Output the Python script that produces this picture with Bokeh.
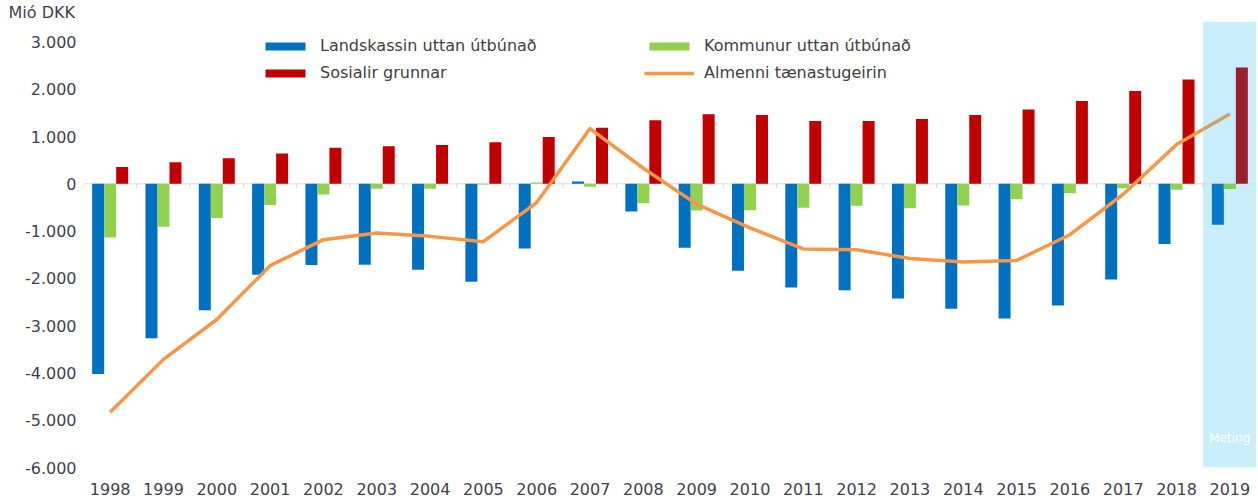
from bokeh.plotting import figure
from bokeh.models import (ColumnDataSource, Range1d, FixedTicker, BoxAnnotation,
                          Label, Legend, LegendItem, Span)
from bokeh.transform import dodge
from bokeh.embed import file_html
from bokeh.resources import INLINE

# ---------------- data ----------------
years = [str(y) for y in range(1998, 2020)]
landskassin = [-4020, -3265, -2675, -1925, -1715, -1710, -1815, -2070, -1370, 50,
               -585, -1350, -1840, -2195, -2250, -2425, -2640, -2850, -2575, -2025,
               -1270, -865]
kommunur = [-1135, -905, -725, -445, -225, -105, -105, -15, 30, -60,
            -410, -565, -560, -505, -465, -515, -460, -325, -200, -95,
            -125, -110]
sosialir = [358, 457, 541, 640, 766, 795, 823, 879, 992, 1188,
            1343, 1470, 1456, 1329, 1329, 1370, 1456, 1575, 1751, 1962,
            2209, 2462]
almenni = [-4830, -3713, -2869, -1730, -1181, -1041, -1111, -1224, -394, 1170,
           330, -430, -930, -1378, -1392, -1580, -1652, -1620, -1076, -220,
           830, 1477]
series_names = ["Landskassin uttan útbúnað", "Kommunur uttan útbúnað",
                "Sosialir grunnar", "Almenni tænastugeirin"]
forecast_year = "2019"
forecast_label = "Meting"
y_unit = "Mió DKK"
y_ticks = list(range(-6000, 3001, 1000))

# ---------------- styles ----------------
BLUE, GREEN, RED, ORANGE = "#0070C0", "#92D050", "#C00000", "#F79646"
BLUE_F, GREEN_F, RED_F, ORANGE_F = "#0A78C8", "#7FCB5C", "#9A1F2E", "#C9A271"
SHADE = "#C9EDFA"
TXT = "#3F3F4F"
FONT = "DejaVu Sans"
W = 0.225

idx = list(range(len(years)))
fi = years.index(forecast_year)


def colors(base, fc):
    return [fc if y == forecast_year else base for y in years]


src = ColumnDataSource(dict(
    x=idx, land=landskassin, komm=kommunur, sos=sosialir,
    c_land=colors(BLUE, BLUE_F), c_komm=colors(GREEN, GREEN_F), c_sos=colors(RED, RED_F),
))

p = figure(width=1256, height=497,
           x_range=Range1d(-0.5, len(years) - 0.5),
           y_range=Range1d(-6000, 3434),
           output_backend="svg", toolbar_location=None,
           min_border_left=83, min_border_right=0, min_border_top=0, min_border_bottom=0)
p.outline_line_color = None
p.grid.visible = False
p.background_fill_color = "white"
p.border_fill_color = "white"

# unit label as title
p.title.text = y_unit
p.title.align = "left"
p.title.offset = -75
p.title.standoff = 0
p.title.text_font = FONT
p.title.text_font_size = "16px"
p.title.text_font_style = "normal"
p.title.text_color = TXT

# forecast shading
p.add_layout(BoxAnnotation(left=fi - 0.5, right=fi + 0.5, fill_color=SHADE,
                           fill_alpha=1.0, line_color=None, level="underlay"))

# zero line + category boundary ticks
p.add_layout(Span(location=0, dimension="width", line_color="#D9D9D9", line_width=1,
                  level="underlay"))
bounds = [i - 0.5 for i in range(len(years) + 1)]
p.segment(x0=bounds, x1=bounds, y0=[0] * len(bounds), y1=[-90] * len(bounds),
          line_color="#D9D9D9", line_width=1)

# bars
r_land = p.vbar(x=dodge("x", -W), top="land", bottom=0, width=W, source=src,
                fill_color="c_land", line_color=None)
r_komm = p.vbar(x=dodge("x", 0), top="komm", bottom=0, width=W, source=src,
                fill_color="c_komm", line_color=None)
r_sos = p.vbar(x=dodge("x", W), top="sos", bottom=0, width=W, source=src,
               fill_color="c_sos", line_color=None)

# line (forecast part in a blended colour)
mid = (almenni[fi - 1] + almenni[fi]) / 2
r_alm = p.line(x=idx[:fi] + [fi - 0.5], y=almenni[:fi] + [mid], line_color=ORANGE,
               line_width=3.5, line_join="round")
p.line(x=[fi - 0.5, fi], y=[mid, almenni[fi]], line_color=ORANGE_F, line_width=3.5,
       line_join="round")

# axes
p.xaxis.ticker = FixedTicker(ticks=idx)
p.xaxis.major_label_overrides = {i: y for i, y in zip(idx, years)}
p.yaxis.ticker = FixedTicker(ticks=y_ticks)
p.yaxis.major_label_overrides = {v: f"{v:,}".replace(",", ".") for v in y_ticks}
for ax in (p.xaxis, p.yaxis):
    ax.axis_line_color = None
    ax.major_tick_line_color = None
    ax.minor_tick_line_color = None
    ax.major_tick_out = 0
    ax.major_tick_in = 0
    ax.major_label_text_font = FONT
    ax.major_label_text_font_size = "16px"
    ax.major_label_text_color = TXT
p.yaxis.major_label_standoff = 7
p.xaxis.major_label_standoff = 15

# legend
legend = Legend(items=[
    LegendItem(label=series_names[0], renderers=[r_land]),
    LegendItem(label=series_names[1], renderers=[r_komm]),
    LegendItem(label=series_names[2], renderers=[r_sos]),
    LegendItem(label=series_names[3], renderers=[r_alm]),
], location=(177, 385), orientation="horizontal", ncols=2)
legend.glyph_width = 50
legend.glyph_height = 10
legend.label_standoff = 10
legend.label_width = 316
legend.label_height = 19
legend.spacing = 8
legend.padding = 0
legend.margin = 0
legend.border_line_color = None
legend.background_fill_alpha = 0
legend.label_text_font = FONT
legend.label_text_font_size = "16px"
legend.label_text_color = "#404040"
p.add_layout(legend, "center")

# forecast label
p.add_layout(Label(x=fi, y=30, x_units="data", y_units="screen", text=forecast_label,
                   text_font=FONT, text_font_size="12px", text_color="white",
                   text_align="center", text_baseline="middle"))

open("out.html", "w").write(file_html(p, INLINE))
